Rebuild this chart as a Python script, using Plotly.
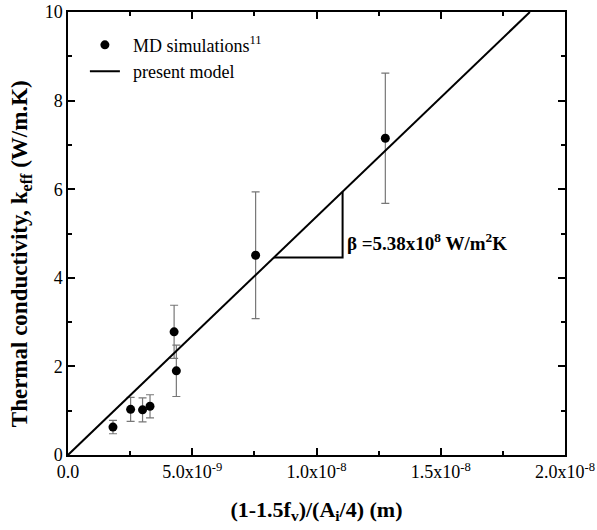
import plotly.graph_objects as go

# Data
md_x = [1.81e-9, 2.52e-9, 3.00e-9, 3.30e-9, 4.27e-9, 4.36e-9, 7.55e-9, 1.277e-8]
md_y = [0.63, 1.03, 1.02, 1.10, 2.78, 1.90, 4.51, 7.15]
md_err = [0.15, 0.27, 0.27, 0.26, 0.60, 0.58, 1.43, 1.47]

beta = 5.38e8
model_x = [0.0, 10.0 / beta]
model_y = [beta * v for v in model_x]

tri_x = [8.29e-9, 1.105e-8, 1.105e-8]
tri_y = [beta * 8.29e-9, beta * 8.29e-9, beta * 1.105e-8]

xtick_vals = [0, 5e-9, 1e-8, 1.5e-8, 2e-8]
xtick_text = ["0.0", "5.0x10<sup>-9</sup>", "1.0x10<sup>-8</sup>",
              "1.5x10<sup>-8</sup>", "2.0x10<sup>-8</sup>"]
ytick_vals = [0, 2, 4, 6, 8, 10]

font = "Liberation Serif"

fig = go.Figure()
fig.add_trace(go.Scatter(
    x=md_x, y=md_y, mode="markers", name="\u00a0\u2009MD simulations<sup>11</sup>",
    marker=dict(color="black", size=9, symbol="circle"),
    error_y=dict(type="data", array=md_err, visible=True, color="#777777",
                 thickness=1.2, width=4),
))
fig.add_trace(go.Scatter(
    x=model_x, y=model_y, mode="lines", name="\u00a0\u2009present model",
    line=dict(color="black", width=2),
))
fig.add_trace(go.Scatter(
    x=tri_x, y=tri_y, mode="lines", showlegend=False,
    line=dict(color="black", width=2), hoverinfo="skip",
))

fig.add_annotation(
    x=1.115e-8, y=4.81, xref="x", yref="y", xanchor="left", yanchor="middle",
    text="<b>β =5.38x10<sup>8</sup> W/m<sup>2</sup>K</b>", showarrow=False,
    font=dict(family=font, size=19, color="black"),
)
fig.add_annotation(
    x=-0.093, y=0.455, xref="paper", yref="paper", xanchor="center", yanchor="middle",
    textangle=-90, showarrow=False,
    text="<b>Thermal conductivity, k<sub>eff</sub> (W/m.K)</b>",
    font=dict(family=font, size=23, color="black"),
)

axis_common = dict(
    showgrid=False, zeroline=False, showline=True, linecolor="black",
    linewidth=1.5, mirror="ticks", ticks="inside", ticklen=7, tickwidth=1.5,
    tickcolor="black", tickfont=dict(family=font, size=18, color="black"),
    automargin=False,
)

fig.update_xaxes(
    range=[0, 2e-8], tickvals=xtick_vals, ticktext=xtick_text,
    minor=dict(ticks="inside", ticklen=4, tickwidth=1.5, tickcolor="black",
               tickvals=[2.5e-9, 7.5e-9, 1.25e-8, 1.75e-8]),
    title=dict(text="<b>(1-1.5f<sub>v</sub>)/(A<sub>i</sub>/4) (m)</b>",
               font=dict(family=font, size=22, color="black"), standoff=20),
    **axis_common,
)
fig.update_yaxes(
    range=[0, 10], tickvals=ytick_vals,
    minor=dict(ticks="inside", ticklen=4, tickwidth=1.5, tickcolor="black",
               tickvals=[1, 3, 5, 7, 9]),
    **axis_common,
)

fig.update_layout(
    width=597, height=530,
    margin=dict(l=68, r=32, t=12, b=75, autoexpand=False),
    plot_bgcolor="white", paper_bgcolor="white",
    showlegend=True,
    legend=dict(x=0.034, y=0.967, xanchor="left", yanchor="top",
                bgcolor="rgba(0,0,0,0)", font=dict(family=font, size=18, color="black"),
                tracegroupgap=0, itemwidth=30),
)

fig.write_html("out.html", config={"displayModeBar": False},
               post_script="document.body.style.margin='0';")
